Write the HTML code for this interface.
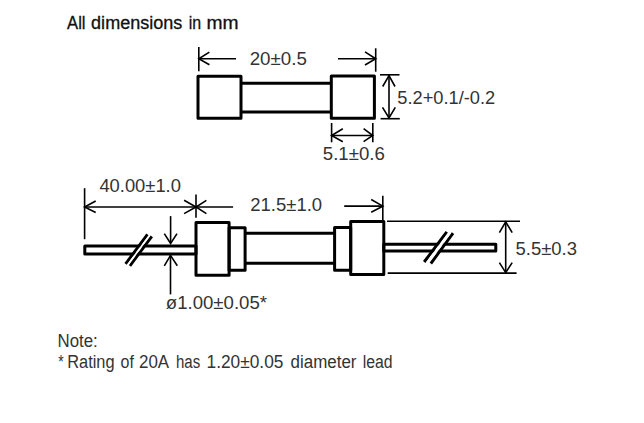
<!DOCTYPE html>
<html><head><meta charset="utf-8"><style>
html,body{margin:0;padding:0;background:#fff;}
svg{display:block;}
text{font-family:"Liberation Sans",sans-serif;font-size:18px;fill:#333;}
.t{fill:#111;stroke:#111;stroke-width:0.3px;}
</style></head><body>
<svg width="644" height="423" viewBox="0 0 644 423">
<rect width="644" height="423" fill="#fff"/>
<g fill="none" stroke="#000" stroke-width="3" stroke-linejoin="round">
 <!-- top fuse -->
 <rect x="198" y="76.2" width="43" height="42.1"/>
 <line x1="241" y1="83.2" x2="331.3" y2="83.2"/>
 <line x1="241" y1="112.1" x2="331.3" y2="112.1"/>
 <rect x="331.3" y="76" width="43.1" height="42.3"/>
 <!-- bottom fuse -->
 <rect x="84.8" y="246" width="111.2" height="8"/>
 <rect x="196" y="222.5" width="33.1" height="52.8"/>
 <rect x="229.1" y="227.8" width="16" height="42.4"/>
 <line x1="245.1" y1="233.2" x2="334.6" y2="233.2"/>
 <line x1="245.1" y1="263.2" x2="334.6" y2="263.2"/>
 <rect x="334.6" y="227.6" width="16.1" height="42.6"/>
 <rect x="350.7" y="221.5" width="33.1" height="52.9"/>
 <rect x="383.8" y="244.2" width="112" height="6.9"/>
</g>
<!-- slashes -->
<g stroke-linecap="butt">
 <line x1="125.6" y1="263.9" x2="147.5" y2="234.3" stroke="#000" stroke-width="2.9"/>
 <line x1="129.9" y1="265.9" x2="151.8" y2="236.3" stroke="#000" stroke-width="2.9"/>
 <line x1="127.75" y1="264.9" x2="149.65" y2="235.3" stroke="#fff" stroke-width="1.6"/>
 <line x1="424.2" y1="262" x2="446.8" y2="231.8" stroke="#000" stroke-width="3"/>
 <line x1="430.8" y1="263.5" x2="453" y2="233.2" stroke="#000" stroke-width="3"/>
 <line x1="427.5" y1="262.75" x2="449.9" y2="232.5" stroke="#fff" stroke-width="2.9"/>
</g>

<g fill="none" stroke="#000" stroke-width="1.6" stroke-linecap="butt" stroke-linejoin="miter">
 <!-- 20±0.5 -->
 <line x1="198.8" y1="47.1" x2="198.8" y2="71.2"/>
 <line x1="198.8" y1="58.8" x2="236" y2="58.8"/>
 <polyline points="209.4,52.1 198.8,58.8 209.4,64.8"/>
 <line x1="375.7" y1="48.3" x2="375.7" y2="71.7"/>
 <line x1="338" y1="58.8" x2="375.7" y2="58.8"/>
 <polyline points="365,51.8 375.7,58.8 365,65"/>
 <!-- 5.2 -->
 <line x1="380" y1="74.8" x2="399.5" y2="74.8"/>
 <line x1="380.6" y1="118.7" x2="399.8" y2="118.7"/>
 <line x1="389" y1="75" x2="389" y2="118.5"/>
 <polyline points="382.7,86.5 389,75.6 395,86.5"/>
 <polyline points="382.5,107.3 389,118 395.3,107.3"/>
 <!-- 5.1 -->
 <line x1="331.6" y1="123" x2="331.6" y2="142.3"/>
 <line x1="372.8" y1="123" x2="372.8" y2="142.3"/>
 <line x1="331.6" y1="135.5" x2="372.8" y2="135.5"/>
 <polyline points="342.8,128.7 331.6,135.5 342.8,141.7"/>
 <polyline points="363.6,128.7 372.8,135.5 363.6,141.7"/>
 <!-- 40.00 -->
 <line x1="84.6" y1="188.2" x2="84.6" y2="239.2"/>
 <line x1="84.6" y1="207" x2="233.1" y2="207"/>
 <polyline points="95.7,201 84.6,207 95.7,212.5"/>
 <polyline points="184.1,200.3 196,207 184.1,213.6"/>
 <line x1="196" y1="194.5" x2="196" y2="217.7"/>
 <polyline points="206.4,200.3 196,207 206.4,213.6"/>
 <!-- 21.5 right -->
 <line x1="344.2" y1="206.1" x2="382.8" y2="206.1"/>
 <polyline points="371.2,199.5 382.8,206.1 371.2,212.2"/>
 <line x1="382.8" y1="195.7" x2="382.8" y2="221"/>
 <!-- phi -->
 <line x1="170.6" y1="216.1" x2="170.6" y2="243.1"/>
 <polyline points="164.3,233.6 170.6,243.5 177,233.6"/>
 <line x1="170.5" y1="255.4" x2="170.5" y2="294.4"/>
 <polyline points="164.3,265.8 170.5,255.4 177.3,265.8"/>
 <!-- 5.5 -->
 <line x1="387" y1="221.3" x2="520" y2="221.3"/>
 <line x1="387.7" y1="273.1" x2="516.6" y2="273.1"/>
 <line x1="505.7" y1="221.3" x2="505.7" y2="273.1"/>
 <polyline points="499.4,232.6 505.7,221.8 512.2,232.6"/>
 <polyline points="499.4,262.6 505.7,272.6 512.2,262.6"/>
</g>

<text x="67.10" y="28.60" font-size="17" textLength="18.48" lengthAdjust="spacingAndGlyphs" class="t">All</text>
<text x="91.10" y="28.60" font-size="17" textLength="91.20" lengthAdjust="spacingAndGlyphs" class="t">dimensions</text>
<text x="188.80" y="28.60" font-size="17" textLength="12.43" lengthAdjust="spacingAndGlyphs" class="t">in</text>
<text x="206.40" y="28.60" font-size="17" textLength="32.06" lengthAdjust="spacingAndGlyphs" class="t">mm</text>
<text x="249.70" y="65.10" textLength="57.12" lengthAdjust="spacingAndGlyphs">20±0.5</text>
<text x="397.30" y="104.10" textLength="97.90" lengthAdjust="spacingAndGlyphs">5.2+0.1/-0.2</text>
<text x="322.80" y="160.00" textLength="61.98" lengthAdjust="spacingAndGlyphs">5.1±0.6</text>
<text x="99.40" y="191.80" textLength="81.53" lengthAdjust="spacingAndGlyphs">40.00±1.0</text>
<text x="250.30" y="211.30" textLength="71.83" lengthAdjust="spacingAndGlyphs">21.5±1.0</text>
<text x="515.50" y="255.20" textLength="61.50" lengthAdjust="spacingAndGlyphs">5.5±0.3</text>
<text x="165.80" y="309.40" textLength="101.21" lengthAdjust="spacingAndGlyphs">ø1.00±0.05*</text>
<text x="57.50" y="346.60" textLength="40.26" lengthAdjust="spacingAndGlyphs">Note:</text>
<text x="58.30" y="367.60" textLength="5.45" lengthAdjust="spacingAndGlyphs">*</text>
<text x="67.25" y="367.60" textLength="47.33" lengthAdjust="spacingAndGlyphs">Rating</text>
<text x="120.60" y="367.60" textLength="13.34" lengthAdjust="spacingAndGlyphs">of</text>
<text x="139.00" y="367.60" textLength="30.13" lengthAdjust="spacingAndGlyphs">20A</text>
<text x="176.00" y="367.60" textLength="24.24" lengthAdjust="spacingAndGlyphs">has</text>
<text x="206.55" y="367.60" textLength="76.86" lengthAdjust="spacingAndGlyphs">1.20±0.05</text>
<text x="290.60" y="367.60" textLength="65.91" lengthAdjust="spacingAndGlyphs">diameter</text>
<text x="362.80" y="367.60" textLength="29.84" lengthAdjust="spacingAndGlyphs">lead</text>
</svg>
</body></html>
